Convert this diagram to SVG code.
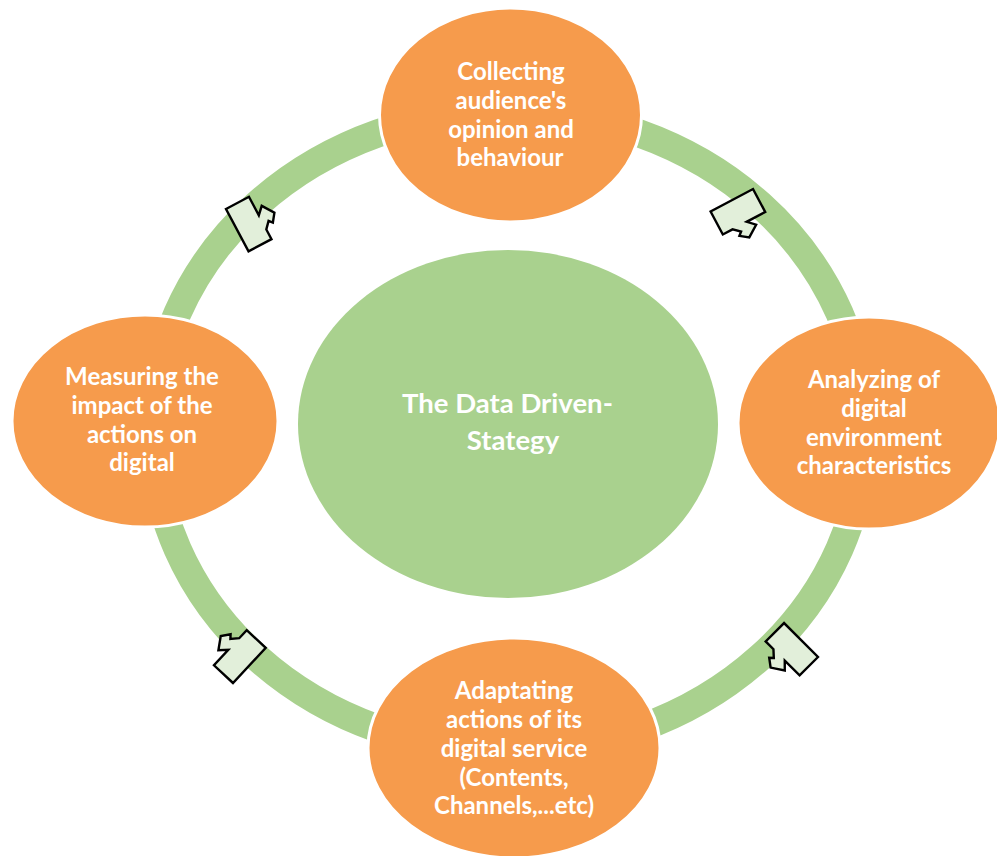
<svg xmlns="http://www.w3.org/2000/svg" width="997" height="856" viewBox="0 0 997 856">
<defs>
<style>
.node{fill:#F69B4C;stroke:#FFFFFF;stroke-width:3}
.t{font-family:Lato,"Open Sans","Liberation Sans",sans-serif;font-weight:bold;font-size:24px;fill:#FFFFFF;text-anchor:middle}
.tc{font-size:27.5px}
.arr{fill:#E2EFDA;stroke:#000000;stroke-width:2.4;stroke-linejoin:miter}
</style>
<path id="ar" d="M0,0 L26,0 L26,21 L33,14 L41,26 L35,34 L32,30.5 L26,37 L26,48 L0,48 Z"/>
</defs>
<rect width="997" height="856" fill="#FFFFFF"/>
<g id="connectors">
<ellipse cx="508.5" cy="431" rx="356" ry="320" fill="none" stroke="#A9D18E" stroke-width="28"/>
<use href="#ar" class="arr" transform="translate(226,209) rotate(-28)"/>
<use href="#ar" class="arr" transform="translate(753,189) rotate(62)"/>
<use href="#ar" class="arr" transform="translate(818,657) rotate(135)"/>
<use href="#ar" class="arr" transform="translate(233,683) rotate(223)"/>
</g>
<g id="center">
<ellipse cx="508" cy="424" rx="210" ry="174" fill="#A9D18E"/>
<text class="t tc" x="507.5" y="413">The Data Driven-</text>
<text class="t tc" x="513" y="450">Stategy</text>
</g>
<g id="top">
<ellipse class="node" cx="510.5" cy="115" rx="131" ry="107"/>
<text class="t" x="511" y="80">Collecting</text>
<text class="t" x="511" y="109">audience's</text>
<text class="t" x="511" y="138">opinion and</text>
<text class="t" x="510" y="166">behaviour</text>
</g>
<g id="right">
<ellipse class="node" cx="869" cy="423" rx="131" ry="106"/>
<text class="t" x="874" y="388">Analyzing of</text>
<text class="t" x="874" y="417">digital</text>
<text class="t" x="874" y="446">environment</text>
<text class="t" x="874" y="474">characteristics</text>
</g>
<g id="bottom">
<ellipse class="node" cx="514" cy="748" rx="146" ry="110"/>
<text class="t" x="514" y="699">Adaptating</text>
<text class="t" x="514" y="728">actions of its</text>
<text class="t" x="514" y="757">digital service</text>
<text class="t" x="514" y="786">(Contents,</text>
<text class="t" x="514" y="814">Channels,...etc)</text>
</g>
<g id="left">
<ellipse class="node" cx="145" cy="421" rx="133" ry="106"/>
<text class="t" x="142" y="385">Measuring the</text>
<text class="t" x="142" y="414">impact of the</text>
<text class="t" x="142" y="443">actions on</text>
<text class="t" x="142" y="471">digital</text>
</g>
</svg>
